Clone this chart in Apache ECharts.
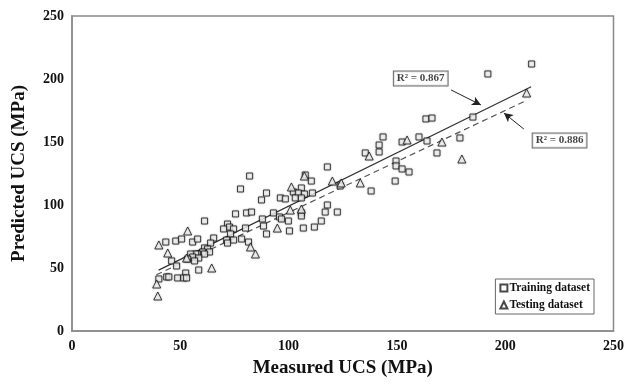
<!DOCTYPE html>
<html><head><meta charset="utf-8">
<script src="https://cdn.jsdelivr.net/npm/echarts@6/dist/echarts.min.js"></script>
<style>html,body{margin:0;padding:0;background:#fff}#c{width:627px;height:385px}</style>
</head><body><div id="c"></div>
<script>
// Training dataset: measured / predicted UCS (MPa)
const trainX = [87.5,75.5,80.6,82.9,61.2,71.8,72.7,70.0,74.6,80.1,73.2,43.3,47.9,50.6,55.7,58.0,65.4,64.0,71.4,74.6,78.3,81.5,71.8,61.2,62.6,60.3,58.0,57.1,54.8,55.7,63.5,61.2,58.5,53.4,56.6,46.0,48.3,52.5,58.5,40.1,43.7,44.7,48.8,51.6,52.9,82.0,77.8,89.8,135.4,117.9,107.7,110.5,96.2,98.5,105.9,102.2,104.5,107.3,111.0,103.1,105.9,117.9,116.9,122.5,105.9,105.9,115.1,111.9,106.8,99.9,100.4,93.0,95.8,96.7,87.9,88.4,89.8,138.1,123.8,163.4,166.2,185.1,143.6,141.8,141.8,152.4,160.2,163.9,179.1,168.5,149.6,149.6,152.4,155.6,149.2,192.0,212.2];
const trainY = [104.0,92.9,93.7,94.4,87.3,84.9,82.5,81.0,81.0,81.7,77.0,70.6,71.4,73.0,70.6,73.0,73.8,69.8,72.2,72.2,73.0,70.6,69.8,65.9,65.1,62.7,61.1,61.1,61.1,58.7,62.7,61.1,57.9,57.1,55.6,55.6,51.6,46.0,48.4,41.3,42.9,42.9,42.1,42.1,42.1,123.0,112.7,109.5,141.3,130.2,123.8,119.0,105.6,104.8,113.5,110.3,109.5,108.7,109.5,105.6,105.6,100.0,94.4,94.4,93.7,91.3,87.3,82.5,81.7,87.3,79.4,93.7,90.5,88.9,88.9,83.3,77.0,111.1,115.1,168.3,169.0,169.8,154.0,147.6,142.1,150.0,154.0,150.8,153.2,141.3,134.9,131.0,128.6,126.2,119.0,204.0,211.9];
// Testing dataset
const testX = [53.4,40.1,44.2,64.5,39.1,39.6,82.4,84.7,52.9,137.2,107.3,101.3,120.2,124.3,133.1,100.8,105.9,94.8,154.7,170.8,180.0,209.9];
const testY = [79.4,68.3,61.9,50.0,37.3,27.8,66.7,61.1,57.9,138.9,123.0,114.3,119.0,117.5,117.5,96.0,96.8,81.7,151.6,150.0,136.5,188.9];
// Trend lines (endpoints)
const trainFitX = [40, 212];
const trainFitY = [48.3, 193.9];
const testFitX = [39, 209.5];
const testFitY = [44.6, 182.7];
// R² annotations: label position and arrow (from -> to)
const r2Text = ['R² = 0.867', 'R² = 0.886'];
const r2LabelX = [161.0, 225.1];
const r2LabelY = [200.4, 151.2];
const arrowFromX = [175.0, 208.6];
const arrowFromY = [191.3, 160.3];
const arrowToX = [188.8, 199.4];
const arrowToY = [179.4, 173.0];
const ticks = [0, 50, 100, 150, 200, 250];
const seriesNames = ['Training dataset', 'Testing dataset'];
const xTitle = 'Measured UCS (MPa)';
const yTitle = 'Predicted UCS (MPa)';

const FONT = '"Liberation Serif", "Times New Roman", serif';
const zip = (a, b) => a.map((v, i) => [v, b[i]]);
const chart = echarts.init(document.getElementById('c'), null, {renderer: 'canvas'});
const markerStyle = {color: '#fff', borderColor: '#1a1a1a', borderWidth: 1, shadowBlur: 2, shadowColor: 'rgba(0,0,0,0.35)'};

chart.setOption({
  animation: false,
  backgroundColor: '#fff',
  grid: {left: 72, right: 12, top: 16, bottom: 54, show: true, borderColor: '#8a8a8a', borderWidth: 1.5, backgroundColor: 'transparent'},
  xAxis: {
    type: 'value', min: ticks[0], max: ticks[ticks.length - 1], interval: 50,
    name: xTitle, nameLocation: 'middle', nameGap: 28,
    nameTextStyle: {fontFamily: FONT, fontWeight: 'bold', fontSize: 19, color: '#111'},
    axisLine: {show: true, lineStyle: {color: '#8a8a8a', width: 1.5}},
    axisTick: {show: false}, splitLine: {show: false},
    axisLabel: {fontFamily: FONT, fontWeight: 'bold', fontSize: 14, color: '#111', margin: 8}
  },
  yAxis: {
    type: 'value', min: ticks[0], max: ticks[ticks.length - 1], interval: 50,
    name: yTitle, nameLocation: 'middle', nameGap: 43,
    nameTextStyle: {fontFamily: FONT, fontWeight: 'bold', fontSize: 19, color: '#111'},
    axisLine: {show: true, lineStyle: {color: '#8a8a8a', width: 1.5}},
    axisTick: {show: false}, splitLine: {show: false},
    axisLabel: {fontFamily: FONT, fontWeight: 'bold', fontSize: 14, color: '#111', margin: 8}
  },
  legend: {
    data: seriesNames, orient: 'vertical', right: 33, top: 279,
    borderColor: '#666', borderWidth: 1, padding: [3, 4, 3, 4], itemGap: 5,
    itemWidth: 7, itemHeight: 7,
    textStyle: {fontFamily: FONT, fontWeight: 'bold', fontSize: 11.5, color: '#111', padding: [0, 0, 0, -3]}
  },
  series: [
    {
      name: 'trainFit', type: 'line', data: zip(trainFitX, trainFitY), symbol: 'none',
      lineStyle: {color: '#333', width: 1.2, type: 'solid'}, silent: true, z: 1,
      markLine: {
        silent: true, symbol: ['none', 'arrow'], symbolSize: [7, 9],
        lineStyle: {color: '#222', width: 1, type: 'solid'}, label: {show: false},
        data: arrowFromX.map((x, i) => [{coord: [x, arrowFromY[i]]}, {coord: [arrowToX[i], arrowToY[i]]}])
      }
    },
    {
      name: 'testFit', type: 'line', data: zip(testFitX, testFitY), symbol: 'none',
      lineStyle: {color: '#555', width: 1.2, type: [6, 4]}, silent: true, z: 1
    },
    {
      name: seriesNames[0], type: 'scatter', symbol: 'rect', symbolSize: 6,
      data: zip(trainX, trainY), itemStyle: markerStyle, z: 3
    },
    {
      name: seriesNames[1], type: 'scatter', symbol: 'triangle', symbolSize: 8,
      data: zip(testX, testY), itemStyle: markerStyle, z: 3
    },
    {
      name: 'r2', type: 'scatter', symbolSize: 0, silent: true, z: 5,
      data: r2LabelX.map((x, i) => [x, r2LabelY[i], r2Text[i]]),
      label: {
        show: true, position: 'inside', formatter: p => p.value[2],
        fontFamily: FONT, fontWeight: 'bold', fontSize: 11, color: '#111',
        backgroundColor: '#fff', borderColor: '#444', borderWidth: 1, padding: [2, 3, 1, 3]
      }
    }
  ]
});
</script></body></html>
